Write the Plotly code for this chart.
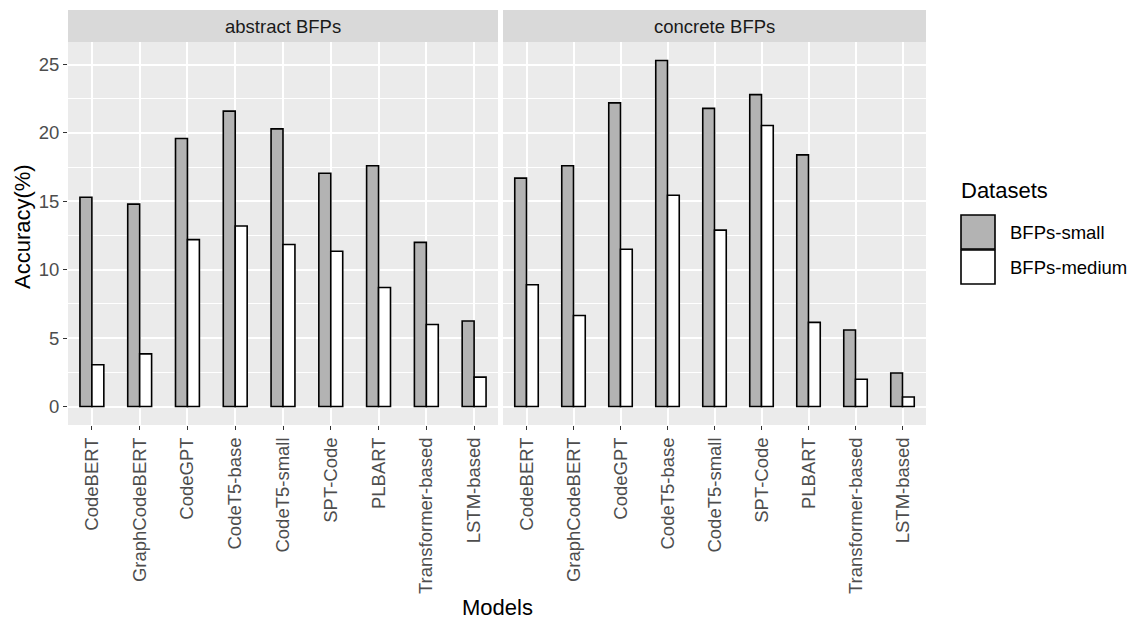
import plotly.graph_objects as go

models = ["CodeBERT", "GraphCodeBERT", "CodeGPT", "CodeT5-base", "CodeT5-small",
          "SPT-Code", "PLBART", "Transformer-based", "LSTM-based"]
panels = ["abstract BFPs", "concrete BFPs"]
series = ["BFPs-small", "BFPs-medium"]

abstract_small = [15.3, 14.8, 19.6, 21.6, 20.3, 17.05, 17.6, 12.0, 6.25]
abstract_medium = [3.05, 3.85, 12.2, 13.2, 11.85, 11.35, 8.7, 6.0, 2.15]
concrete_small = [16.7, 17.6, 22.2, 25.3, 21.8, 22.8, 18.4, 5.6, 2.45]
concrete_medium = [8.9, 6.65, 11.5, 15.45, 12.9, 20.55, 6.15, 2.0, 0.7]

y_ticks = [0, 5, 10, 15, 20, 25]

fills = {"BFPs-small": "#B3B3B3", "BFPs-medium": "#FFFFFF"}
data = {
    ("abstract BFPs", "BFPs-small"): abstract_small,
    ("abstract BFPs", "BFPs-medium"): abstract_medium,
    ("concrete BFPs", "BFPs-small"): concrete_small,
    ("concrete BFPs", "BFPs-medium"): concrete_medium,
}

W, H = 1139, 622
px = lambda x: x / W
py = lambda y: 1 - y / H

panel_x = [(68, 498), (503, 926)]
panel_top, panel_bot = 42, 425
strip_top = 10

FONT = "Liberation Sans, Arial, sans-serif"
SMALL = 18.5
TITLE = 22

fig = go.Figure()
for i, p in enumerate(panels):
    xa = "x" if i == 0 else "x2"
    ya = "y" if i == 0 else "y2"
    for s in series:
        fig.add_trace(go.Bar(
            x=models, y=data[(p, s)], name=s, xaxis=xa, yaxis=ya,
            marker=dict(color=fills[s], line=dict(color="black", width=1.6)),
            showlegend=False,
        ))

x_common = dict(
    showgrid=True, gridcolor="white", gridwidth=1.6,
    ticks="outside", ticklen=4, tickcolor="#333333", tickwidth=1.2,
    tickfont=dict(family=FONT, size=SMALL, color="#4D4D4D"),
    zeroline=False, showline=False, tickangle=-90,
)
minor = dict(dtick=2.5, tick0=0, showgrid=True, gridcolor="white",
             gridwidth=0.8, ticks="")
yr = [-1.35, 26.65]

fig.update_layout(
    width=W, height=H,
    margin=dict(l=0, r=0, t=0, b=0),
    paper_bgcolor="white", plot_bgcolor="#EBEBEB",
    barmode="group", bargap=0.5, bargroupgap=0,
    xaxis=dict(domain=[px(panel_x[0][0]), px(panel_x[0][1])], anchor="y", **x_common),
    xaxis2=dict(domain=[px(panel_x[1][0]), px(panel_x[1][1])], anchor="y2", **x_common),
    yaxis=dict(domain=[py(panel_bot), py(panel_top)], range=yr,
               tickvals=y_ticks, anchor="x",
               showgrid=True, gridcolor="white", gridwidth=1.6,
               ticks="outside", ticklen=4, tickcolor="#333333", tickwidth=1.2,
               tickfont=dict(family=FONT, size=SMALL, color="#4D4D4D"),
               zeroline=False, showline=False, minor=minor),
    yaxis2=dict(domain=[py(panel_bot), py(panel_top)], range=yr,
                tickvals=y_ticks, anchor="x2", showticklabels=False, ticks="",
                showgrid=True, gridcolor="white", gridwidth=1.6,
                zeroline=False, showline=False, minor=minor),
    showlegend=False,
)

shapes = []
annotations = []
for i, p in enumerate(panels):
    x0, x1 = panel_x[i]
    shapes.append(dict(type="rect", xref="paper", yref="paper",
                       x0=px(x0), x1=px(x1), y0=py(panel_top), y1=py(strip_top),
                       fillcolor="#D9D9D9", line=dict(width=0), layer="below"))
    annotations.append(dict(text=p, xref="paper", yref="paper",
                            x=px((x0 + x1) / 2), y=py((strip_top + panel_top) / 2),
                            showarrow=False, xanchor="center", yanchor="middle",
                            font=dict(family=FONT, size=SMALL, color="#1A1A1A")))

# axis titles
annotations.append(dict(text="Models", xref="paper", yref="paper",
                        x=px(497), y=py(607), showarrow=False,
                        xanchor="center", yanchor="middle",
                        font=dict(family=FONT, size=TITLE, color="black")))
annotations.append(dict(text="Accuracy(%)", xref="paper", yref="paper",
                        x=px(22), y=py(227), showarrow=False, textangle=-90,
                        xanchor="center", yanchor="middle",
                        font=dict(family=FONT, size=TITLE, color="black")))

# legend
annotations.append(dict(text="Datasets", xref="paper", yref="paper",
                        x=px(959), y=py(191), showarrow=False,
                        xanchor="left", yanchor="middle",
                        font=dict(family=FONT, size=TITLE, color="black")))
key_y = [(215, 249), (250, 284)]
for s, (y0, y1) in zip(series, key_y):
    shapes.append(dict(type="rect", xref="paper", yref="paper",
                       x0=px(961), x1=px(995), y0=py(y1), y1=py(y0),
                       fillcolor=fills[s], line=dict(color="black", width=1.6)))
    annotations.append(dict(text=s, xref="paper", yref="paper",
                            x=px(1008), y=py((y0 + y1) / 2), showarrow=False,
                            xanchor="left", yanchor="middle",
                            font=dict(family=FONT, size=SMALL, color="black")))

fig.update_layout(shapes=shapes, annotations=annotations)
fig.write_html(
    "out.html",
    config={"displayModeBar": False},
    post_script="document.body.style.margin='0px';document.body.style.overflow='hidden';",
)
